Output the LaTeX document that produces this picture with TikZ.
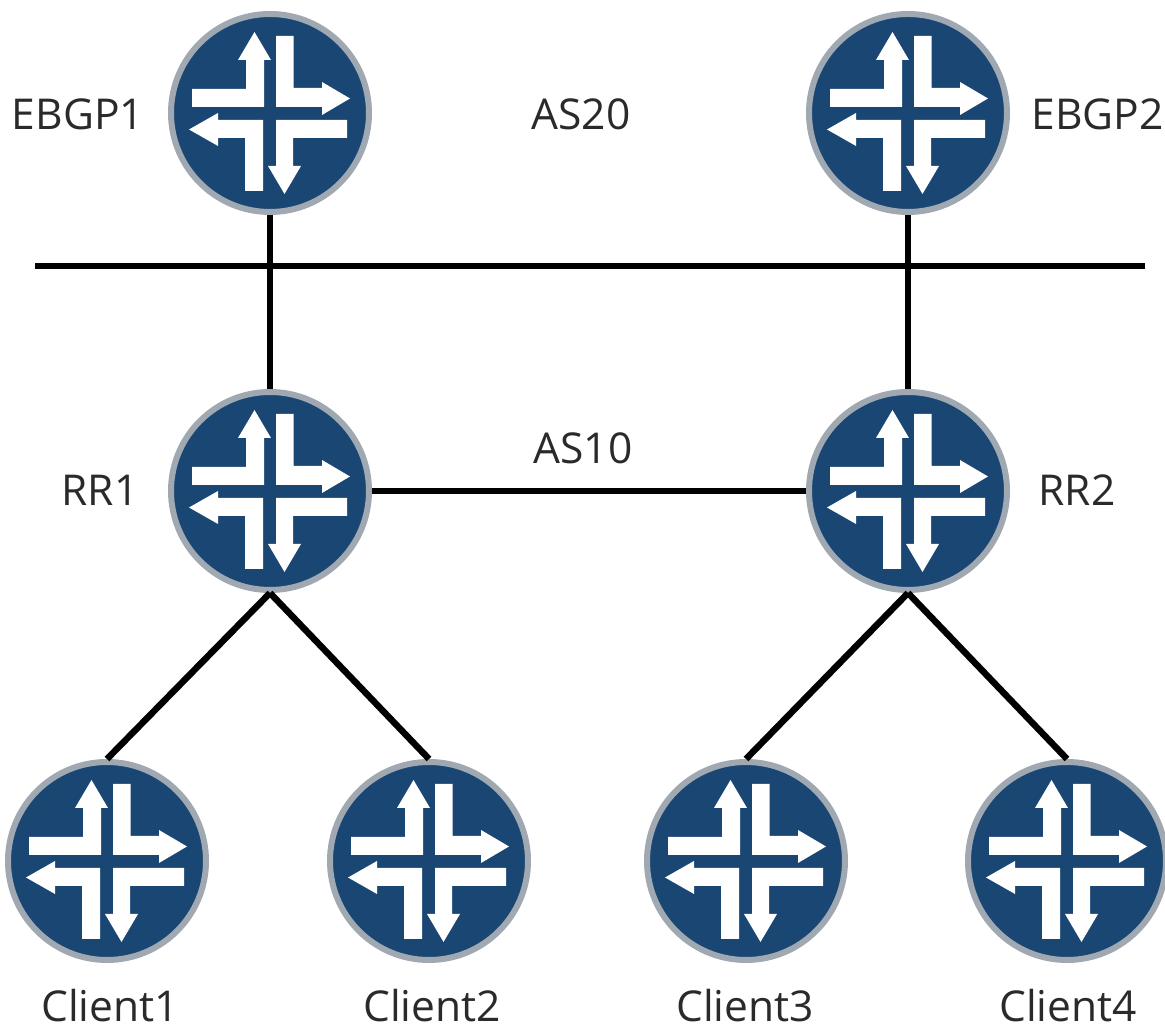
\documentclass[tikz,border=0pt]{standalone}
\usepackage{fontspec}
\setmainfont{Open Sans}
\definecolor{routerblue}{HTML}{1A4674}
\definecolor{routerrim}{HTML}{A0A8B2}
\definecolor{labelgray}{HTML}{2A2A2A}
% the four white arrows of a router icon
\newcommand{\routerarrows}{%
  \fill[white,shift={(path picture bounding box.center)}]
    (-78,6) -- (-6,6) -- (-6,53) -- (1,53) -- (-15.5,81) -- (-32,53) -- (-24,53) -- (-24,24) -- (-78,24) -- cycle
    (6,77) -- (23.5,77) -- (23.5,25) -- (52,25) -- (52,31) -- (80,14.5) -- (52,-2) -- (52,6) -- (6,6) -- cycle
    (-7,-7) -- (-52,-7) -- (-52,0) -- (-81,-16.5) -- (-52,-33) -- (-52,-25) -- (-25,-25) -- (-25,-78) -- (-7,-78) -- cycle
    (77,-7) -- (6,-7) -- (6,-53) -- (-2,-53) -- (14.5,-81) -- (31,-53) -- (23,-53) -- (23,-25) -- (77,-25) -- cycle;}
\begin{document}
\begin{tikzpicture}[x=1pt, y=1pt,
    router/.style={circle,draw=routerrim,fill=routerblue,line width=6pt,minimum size=198pt,inner sep=0pt,path picture={\routerarrows}},
    lbl/.style={anchor=base,text=labelgray,inner sep=0pt,font=\fontsize{42.5}{42.5}\selectfont},
    link/.style={line width=5.5pt,color=black}]
    \useasboundingbox (0,0) rectangle (1165,1030);

    \node[router] (ebgpa) at (270,917) {};
    \node[router] (ebgpb) at (908,917) {};
    \node[router] (rra) at (270,539) {};
    \node[router] (rrb) at (908,539) {};
    \node[router] (clienta) at (107,169) {};
    \node[router] (clientb) at (429,169) {};
    \node[router] (clientc) at (746,169) {};
    \node[router] (clientd) at (1067,169) {};

    \coordinate (borderl) at (35,764);
    \coordinate (borderr) at (1145,764);

    \draw[link] (borderl) -- (borderr);
    \draw[link] (ebgpa) -- (rra);
    \draw[link] (ebgpb) -- (rrb);
    \draw[link] (rra) -- (rrb);
    \draw[link,line width=6.5pt] (rra.south) -- (clienta.north);
    \draw[link,line width=6.5pt] (rra.south) -- (clientb.north);
    \draw[link,line width=6.5pt] (rrb.south) -- (clientc.north);
    \draw[link,line width=6.5pt] (rrb.south) -- (clientd.north);

    \node[lbl] (ebgpalbl) at (78,900) {EBGP1};
    \node[lbl,anchor=base east] (ebgpblbl) at (1164,900) {EBGP2};
    \node[lbl] (astwenty) at (581,900) {AS20};
    \node[lbl] (aston) at (583,566) {AS10};
    \node[lbl] (rralbl) at (100,524) {RR1};
    \node[lbl] (rrblbl) at (1077,524) {RR2};
    \node[lbl] (clientalbl) at (110,8) {Client1};
    \node[lbl] (clientblbl) at (432,8) {Client2};
    \node[lbl] (clientclbl) at (745,8) {Client3};
    \node[lbl] (clientdlbl) at (1068,8) {Client4};
\end{tikzpicture}
\end{document}
